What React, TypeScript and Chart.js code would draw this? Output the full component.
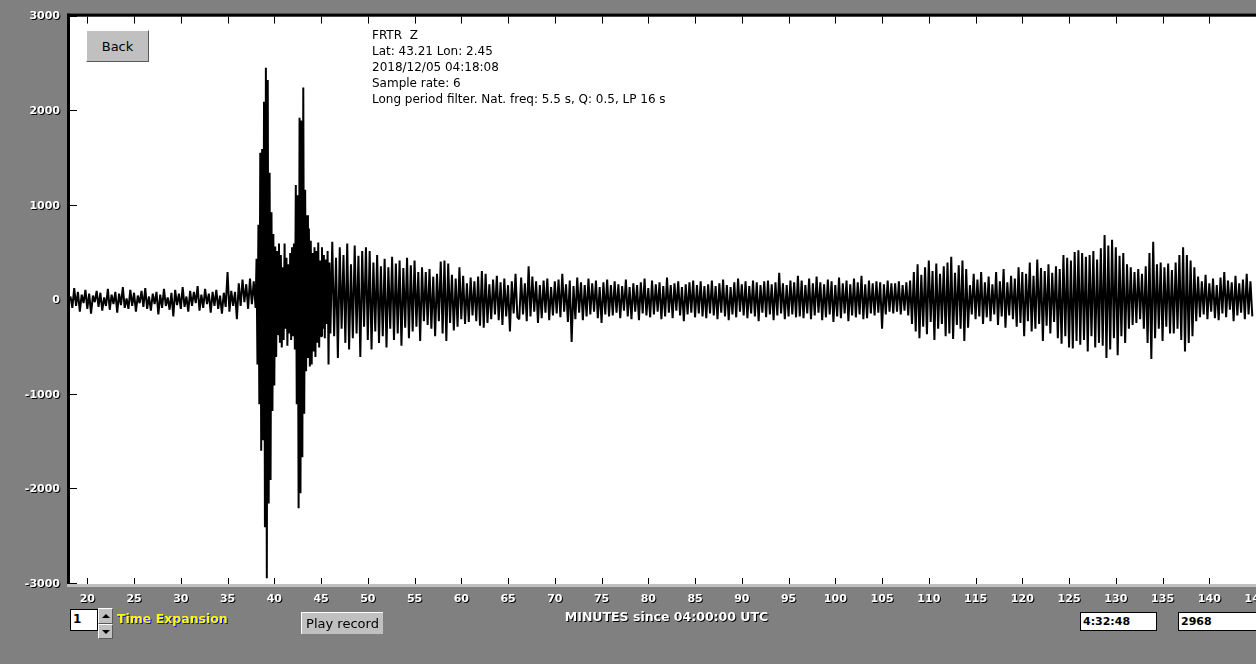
import React, { useEffect, useRef } from "react";
import { Chart, registerables } from "chart.js";

Chart.register(...registerables);

// ---------- axis settings ----------
const X_MIN = 18.15;
const X_MAX = 149.7;
const X_STEP = 5;
const Y_MIN = -3000;
const Y_MAX = 3000;
const Y_STEP = 1000;

// ---------- text ----------
const INFO_LINES = [
  "FRTR  Z",
  "Lat: 43.21 Lon: 2.45",
  "2018/12/05 04:18:08",
  "Sample rate: 6",
  "Long period filter. Nat. freq: 5.5 s, Q: 0.5, LP 16 s",
];
const X_TITLE = "MINUTES since 04:00:00 UTC";
const TIME_BOX = "4:32:48";
const VALUE_BOX = "2968";
const EXPANSION = "1";

// ---------- waveform values (counts) ----------
// minutes 18.2 .. 27.0, every 0.2 min
const segA = [40, -80, 130, -60, 90, -120, 60, -30, 110, -90, 70, -140, 50, -20, 100, -70, 80, -110, 30, -60, 120, -100, 60, -40, 90, -130, 70, -50, 140, -80, 20, -90, 110, -60, 80, -120, 50, -30, 100, -70, 130, -90, 40, -110, 70];
// minutes 27.2 .. 36.0
const segB = [-40, 90, -150, 60, -80, 120, -60, 30, -100, 80, -170, 110, -50, 70, -90, 140, -70, 40, -120, 100, -60, 90, -30, 150, -110, 60, -80, 120, -40, 70, -130, 90, -60, 110, -90, 50, -140, 80, -70, 300, -120, 100, -60, 90, -200];
// minutes 36.2 .. 38.0
const segC = [180, -60, 220, -20, 170, -90, 230, -40, 200, -80];
// minutes 38.1 .. 46.0, every 0.1 min (main arrivals)
const segD = [
  440, -680, 800, -1100, 1560, -1590, 1600, -1480, 2100, -2400,
  2460, -2940, 2330, -2150, 1350, -1900, 930, -1170, 700, -900,
  570, -600, 520, -360, 600, -450, 480, -500, 350, -420,
  600, -300, 450, -480, 380, -350, 500, -420, 560, -380,
  600, -520, 1220, -1100, 1110, -2200, 1930, -2040, 1900, -1660,
  2250, -1200, 1170, -750, 900, -610, 760, -700, 630, -680,
  500, -540, 560, -600, 520, -450, 610, -500, 420, -380,
  560, -300, 480, -400, 430, -250, 520, -680, 400, -350,
];
// minutes 46.2 .. 56.0
const segE = [620, -380, 450, -610, 560, -300, 480, -450, 600, -520, 380, -400, 580, -350, 470, -600, 520, -280, 560, -420, 520, -520, 400, -330, 480, -450, 360, -380, 440, -500, 350, -300, 460, -420, 390, -350, 420, -480, 340, -290, 450, -400, 370, -330, 420, -280, 300, -430, 350, -220];
// minutes 56.2 .. 66.0
const segF = [300, -260, 330, -300, 250, -380, 280, -220, 410, -350, 420, -430, 390, -240, 270, -320, 230, -280, 350, -200, 260, -250, 180, -230, 240, -160, 200, -220, 250, -270, 310, -290, 280, -240, 170, -200, 220, -150, 260, -210, 190, -260, 230, -170, 160, -330, 200, -140, 280, -180];
// minutes 66.2 .. 76.0
const segG = [-200, 240, -150, 180, -220, 360, -170, 250, -120, 200, -240, 160, -190, 210, -130, 230, -210, 140, -160, 200, -140, 220, -180, 280, -120, 170, -230, 210, -440, 150, -200, 240, -130, 190, -210, 160, -170, 230, -150, 180, -120, 210, -190, 140, -240, 190, -150, 220, -170, 160];
// minutes 76.2 .. 86.0
const segH = [-160, 200, -130, 170, -190, 150, -110, 220, -170, 140, -200, 180, -120, 160, -210, 190, -140, 230, -160, 130, -180, 210, -150, 170, -120, 190, -200, 150, -170, 240, -130, 160, -190, 180, -110, 200, -160, 140, -220, 170, -150, 190, -130, 210, -180, 160, -140, 200, -170, 150];
// minutes 86.2 .. 96.0
const segI = [-190, 170, -140, 210, -160, 150, -200, 180, -130, 220, -170, 160, -210, 140, -150, 190, -180, 230, -120, 170, -160, 200, -190, 150, -140, 210, -170, 190, -220, 160, -130, 200, -180, 210, -150, 170, -210, 190, -160, 290, -140, 180, -200, 160, -170, 210, -150, 190, -180, 260];
// minutes 96.2 .. 106.0
const segJ = [-170, 210, -190, 160, -140, 230, -200, 180, -160, 250, -130, 190, -210, 170, -180, 220, -150, 200, -230, 160, -170, 240, -190, 180, -140, 210, -220, 170, -160, 230, -180, 190, -150, 260, -200, 170, -190, 210, -140, 180, -160, 200, -130, 190, -300, 170, -150, 210, -120, 180];
// minutes 106.2 .. 116.0
const segK = [-140, 180, -120, 200, -150, 160, -110, 190, -160, 210, -250, 300, -330, 380, -400, 270, -280, 350, -360, 420, -230, 310, -420, 390, -300, 280, -250, 360, -380, 400, -350, 460, -410, 290, -260, 370, -300, 420, -430, 330, -290, 160, -150, 280, -200, 220, -170, 300, -250, 190];
// minutes 116.2 .. 126.0
const segL = [-180, 250, -220, 170, -150, 300, -260, 200, -170, 330, -290, 190, -160, 260, -200, 230, -280, 350, -240, 300, -380, 280, -220, 400, -330, 260, -300, 430, -250, 340, -430, 310, -270, 380, -350, 290, -230, 360, -400, 330, -460, 480, -380, 450, -500, 420, -510, 510, -430, 530];
// minutes 126.2 .. 136.0
const segM = [-470, 500, -420, 460, -540, 480, -380, 520, -500, 430, -450, 550, -480, 690, -610, 580, -520, 640, -400, 560, -580, 470, -380, 500, -450, 380, -300, 350, -260, 300, -240, 330, -200, 280, -300, 360, -450, 500, -620, 620, -400, 380, -300, 400, -430, 350, -280, 390, -350, 320];
// minutes 136.2 .. 144.6
const segN = [-350, 400, -300, 480, -420, 560, -540, 480, -450, 420, -380, 350, -220, 250, -180, 200, -150, 270, -200, 180, -120, 230, -190, 160, -210, 240, -140, 300, -180, 210, -100, 190, -220, 260, -160, 180, -130, 220, -200, 280, -150, 200, -170];

// [start minute, step in minutes, values]
const SEGMENTS: [number, number, number[]][] = [
  [18.2, 0.2, segA],
  [27.2, 0.2, segB],
  [36.2, 0.2, segC],
  [38.1, 0.1, segD],
  [46.2, 0.2, segE],
  [56.2, 0.2, segF],
  [66.2, 0.2, segG],
  [76.2, 0.2, segH],
  [86.2, 0.2, segI],
  [96.2, 0.2, segJ],
  [106.2, 0.2, segK],
  [116.2, 0.2, segL],
  [126.2, 0.2, segM],
  [136.2, 0.2, segN],
];

function buildPoints() {
  const pts: { x: number; y: number }[] = [];
  SEGMENTS.forEach(([t0, dt, vals]) => {
    vals.forEach((v, i) => pts.push({ x: Math.round((t0 + i * dt) * 100) / 100, y: v }));
  });
  return pts;
}

const GRAY = "#808080";
const LIGHT = "#c0c0c0";

const framePlugin = {
  id: "seisFrame",
  beforeDraw(chart: any) {
    const { ctx, chartArea: a } = chart;
    ctx.save();
    ctx.fillStyle = GRAY;
    ctx.fillRect(0, 0, chart.width, chart.height);
    ctx.fillStyle = "#ffffff";
    ctx.fillRect(a.left, a.top, a.right - a.left, a.bottom - a.top);
    ctx.fillStyle = "#000000";
    ctx.fillRect(a.left - 3, a.top - 3, a.right - a.left + 3, 3);
    ctx.fillRect(a.left - 3, a.top - 3, 3, a.bottom - a.top + 4);
    ctx.fillStyle = LIGHT;
    ctx.fillRect(a.left - 3, a.bottom, a.right - a.left + 3, 3);
    ctx.restore();
    // shadow for tick labels drawn next by the scales
    ctx.shadowColor = "#000000";
    ctx.shadowOffsetX = 1;
    ctx.shadowOffsetY = 1;
    ctx.shadowBlur = 0;
  },
  beforeDatasetsDraw(chart: any) {
    const { ctx, chartArea: a } = chart;
    ctx.shadowColor = "rgba(0,0,0,0)";
    ctx.shadowOffsetX = 0;
    ctx.shadowOffsetY = 0;
    ctx.save();
    ctx.fillStyle = "#000000";
    const xs = chart.scales.x;
    const ys = chart.scales.y;
    xs.ticks.forEach((t: any) => {
      const px = Math.round(xs.getPixelForValue(t.value));
      ctx.fillRect(px, a.top, 1, 7);
      ctx.fillRect(px, a.bottom - 6, 1, 6);
    });
    ys.ticks.forEach((t: any) => {
      const py = Math.round(ys.getPixelForValue(t.value)) - 1;
      ctx.fillRect(a.left, py, 7, 1);
    });
    ctx.restore();
  },
  afterDraw(chart: any) {
    const { ctx } = chart;
    ctx.save();
    ctx.fillStyle = "#000000";
    ctx.font = '12px "DejaVu Sans"';
    ctx.textBaseline = "alphabetic";
    ctx.textAlign = "left";
    INFO_LINES.forEach((line, i) => {
      ctx.fillText(line, 372, 38.5 + i * 16.2);
    });
    ctx.font = 'bold 12.5px "DejaVu Sans"';
    ctx.textAlign = "center";
    ctx.shadowColor = "#000000";
    ctx.shadowOffsetX = 1;
    ctx.shadowOffsetY = 1;
    ctx.shadowBlur = 0;
    ctx.fillStyle = "#ffffff";
    ctx.fillText(X_TITLE, 666.5, 621);
    ctx.restore();
  },
};

const btn3d: React.CSSProperties = {
  position: "absolute",
  background: LIGHT,
  boxSizing: "border-box",
  borderTop: "1px solid #ffffff",
  borderLeft: "1px solid #ffffff",
  borderRight: "1px solid #5a5a5a",
  borderBottom: "1px solid #5a5a5a",
  fontFamily: '"DejaVu Sans"',
  color: "#000",
  display: "flex",
  alignItems: "center",
  justifyContent: "center",
};

export default function App() {
  const ref = useRef<HTMLCanvasElement>(null);

  useEffect(() => {
    if (!ref.current) return;
    const chart = new Chart(ref.current, {
      type: "line",
      data: {
        datasets: [
          {
            data: buildPoints(),
            borderColor: "#000000",
            borderWidth: 2,
            borderJoinStyle: "bevel",
            pointRadius: 0,
            tension: 0,
            fill: false,
          },
        ],
      },
      options: {
        animation: false,
        responsive: false,
        devicePixelRatio: 1,
        events: [],
        layout: { padding: { top: 14, left: 0, right: 0, bottom: 0 } },
        plugins: { legend: { display: false }, tooltip: { enabled: false } },
        scales: {
          x: {
            type: "linear",
            min: X_MIN,
            max: X_MAX,
            grid: { display: false, drawTicks: false },
            border: { display: false },
            afterFit: (s: any) => {
              s.height = 80;
              s.paddingLeft = 0;
              s.paddingRight = 0;
            },
            ticks: {
              stepSize: X_STEP,
              includeBounds: false,
              autoSkip: false,
              maxRotation: 0,
              padding: 9,
              color: "#ffffff",
              font: { family: "DejaVu Sans", size: 11, weight: "bold" },
              callback: (v: any) => String(v),
            },
          },
          y: {
            type: "linear",
            min: Y_MIN,
            max: Y_MAX,
            grid: { display: false, drawTicks: false },
            border: { display: false },
            afterFit: (s: any) => {
              s.width = 70;
            },
            ticks: {
              stepSize: Y_STEP,
              padding: 10,
              color: "#ffffff",
              font: { family: "DejaVu Sans", size: 11, weight: "bold" },
              callback: (v: any) => String(v),
            },
          },
        },
      },
      plugins: [framePlugin],
    } as any);
    return () => chart.destroy();
  }, []);

  return (
    <div
      style={{
        position: "fixed",
        left: 0,
        top: 0,
        width: 1256,
        height: 664,
        overflow: "hidden",
        background: GRAY,
      }}
    >
      <canvas
        ref={ref}
        width={1300}
        height={664}
        style={{ position: "absolute", left: 0, top: 0, width: 1300, height: 664 }}
      />
      <div style={{ ...btn3d, left: 86, top: 30, width: 63, height: 32, fontSize: 13 }}>Back</div>

      <div
        style={{
          position: "absolute",
          left: 70,
          top: 609,
          width: 28,
          height: 22,
          boxSizing: "border-box",
          background: "#fff",
          border: "1px solid #000",
          fontFamily: '"DejaVu Sans"',
          fontWeight: "bold",
          fontSize: 12,
          lineHeight: "19px",
          paddingLeft: 2,
          color: "#000",
        }}
      >
        {EXPANSION}
      </div>
      <div style={{ ...btn3d, left: 98, top: 608, width: 15, height: 16 }}>
        <div style={{ width: 0, height: 0, borderLeft: "4px solid transparent", borderRight: "4px solid transparent", borderBottom: "4px solid #000" }} />
      </div>
      <div style={{ ...btn3d, left: 98, top: 624, width: 15, height: 15 }}>
        <div style={{ width: 0, height: 0, borderLeft: "4px solid transparent", borderRight: "4px solid transparent", borderTop: "4px solid #000" }} />
      </div>
      <div
        style={{
          position: "absolute",
          left: 117,
          top: 612,
          height: 14,
          lineHeight: "14px",
          fontFamily: '"DejaVu Sans"',
          fontWeight: "bold",
          fontSize: 12.5,
          color: "#ffff00",
          textShadow: "1px 1px 0 #0000ff",
          whiteSpace: "nowrap",
        }}
      >
        Time Expansion
      </div>

      <div
        style={{
          ...btn3d,
          left: 301,
          top: 612,
          width: 82,
          height: 22,
          fontSize: 13,
          borderRight: "none",
          borderBottom: "none",
        }}
      >
        Play record
      </div>

      <div
        style={{
          position: "absolute",
          left: 1080,
          top: 612,
          width: 77,
          height: 19,
          boxSizing: "border-box",
          background: "#fff",
          border: "1px solid #000",
          fontFamily: '"DejaVu Sans"',
          fontWeight: "bold",
          fontSize: 11,
          lineHeight: "17px",
          paddingLeft: 2,
          color: "#000",
        }}
      >
        {TIME_BOX}
      </div>
      <div
        style={{
          position: "absolute",
          left: 1178,
          top: 612,
          width: 100,
          height: 19,
          boxSizing: "border-box",
          background: "#fff",
          border: "1px solid #000",
          fontFamily: '"DejaVu Sans"',
          fontWeight: "bold",
          fontSize: 11,
          lineHeight: "17px",
          paddingLeft: 2,
          color: "#000",
        }}
      >
        {VALUE_BOX}
      </div>
    </div>
  );
}
